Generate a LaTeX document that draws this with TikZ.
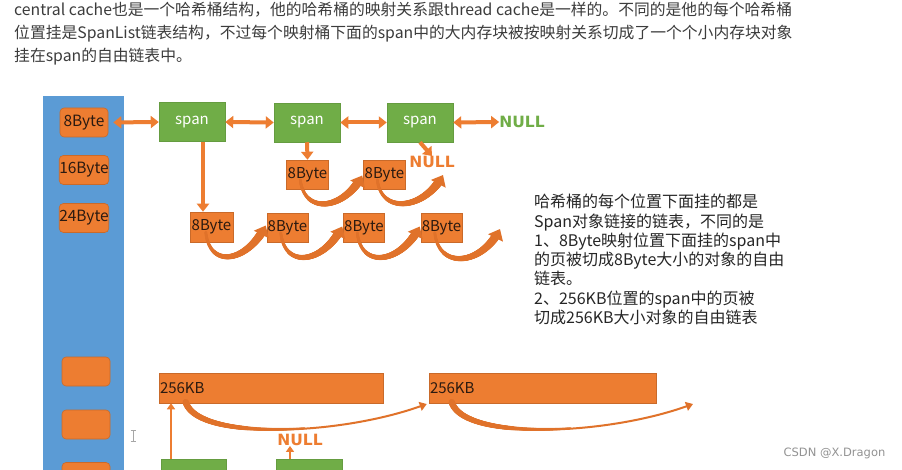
\documentclass[tikz,border=0pt]{standalone}
\usepackage{fontspec}
\setmainfont{Noto Sans CJK SC}
\newfontfamily\dejavu{DejaVu Sans}
\usetikzlibrary{arrows.meta,calc,decorations.markings}
\definecolor{myorange}{HTML}{ED7D31}
\definecolor{curorange}{HTML}{E0722A}
\definecolor{mygreen}{HTML}{70AD47}
\definecolor{myblue}{HTML}{5B9BD5}
\definecolor{txtdark}{HTML}{262626}
\definecolor{boxtxt}{HTML}{2B1A10}
\tikzset{
  bucketbox/.style={fill=myorange, draw=myorange!85!black, line width=0.6pt, rounded corners=4pt,
    minimum width=48pt, minimum height=29pt, inner sep=0pt, text=boxtxt, font=\fontsize{15.5}{15.5}\selectfont},
  spanbox/.style={fill=mygreen, draw=mygreen!90!black, line width=0.5pt, minimum width=66pt, minimum height=39pt,
    inner sep=0pt, text=white, font=\fontsize{15}{15}\selectfont},
  objbox/.style={fill=myorange, draw=myorange!85!black, line width=0.5pt, minimum width=42pt, minimum height=29pt,
    inner sep=0pt, text=boxtxt, font=\fontsize{15}{15}\selectfont},
  bigbox/.style={fill=myorange, draw=myorange!85!black, line width=0.5pt, minimum height=30pt, inner xsep=1pt,
    align=left, text=boxtxt, font=\fontsize{15}{15}\selectfont},
  nulltxt/.style={font=\dejavu\bfseries\fontsize{15.5}{15.5}\selectfont, inner sep=0pt},
  dbl/.style={draw=myorange, line width=4pt, {Triangle[width=12pt,length=8pt]}-{Triangle[width=12pt,length=8pt]}},
  down/.style={draw=myorange, line width=4pt, -{Triangle[width=12pt,length=8pt]}},
  thinup/.style={draw=myorange, line width=2.5pt, -{Triangle[width=8pt,length=6pt]}},
  curarrow/.style={draw=curorange, line width=2.5pt, -{Triangle[width=16pt,length=10pt]},
    postaction={decorate, decoration={markings, mark=between positions 0 and 0.9 step 0.5pt with
      {\fill[curorange] (0,0) circle[radius={(1.2+3.3*\pgfkeysvalueof{/pgf/decoration/mark info/distance from start}/\pgfdecoratedpathlength)*1pt}];}}}},
  longcur/.style={draw=curorange, line width=2pt, -{Triangle[width=9pt,length=7pt]},
    postaction={decorate, decoration={markings, mark=between positions 0 and 0.5 step 0.5pt with
      {\fill[curorange] (0,0) circle[radius={(3.2-4.4*\pgfkeysvalueof{/pgf/decoration/mark info/distance from start}/\pgfdecoratedpathlength)*1pt}];}}}},
  header/.style={anchor=west, inner sep=0pt, text=txtdark!90, font=\fontsize{15.8}{15.8}\selectfont},
}
\begin{document}
\begin{tikzpicture}[x=1pt,y=-1pt]
\useasboundingbox (0,0) rectangle (902,470);
\clip (0,0) rectangle (902,470);
\fill[white] (0,0) rectangle (902,470);

% header text
\node[header] (h1) at (14,10) {central cache也是一个哈希桶结构，他的哈希桶的映射关系跟thread cache是一样的。不同的是他的每个哈希桶};
\node[header] (h2) at (14,34) {位置挂是SpanList链表结构，不过每个映射桶下面的span中的大内存块被按映射关系切成了一个个小内存块对象};
\node[header] (h3) at (14,57) {挂在span的自由链表中。};

% bucket bar
\node[fill=myblue, minimum width=81pt, minimum height=384pt, inner sep=0pt, anchor=north west] (bucket) at (43,96) {};
\node[bucketbox] (b8) at (84,122.5) {8Byte};
\node[bucketbox] (b16) at (84,170) {16Byte};
\node[bucketbox] (b24) at (84,218) {24Byte};
\node[bucketbox] (e1) at (86,371.5) {};
\node[bucketbox] (e2) at (86,424.5) {};
\node[bucketbox] (e3) at (86,477) {};

% spans
\node[spanbox] (s1) at (192,122) {span};
\node[spanbox] (s2) at (307,122.5) {span};
\node[spanbox] (s3) at (420,122.5) {span};
\node[nulltxt, text=mygreen] (ng) at (522,122) {NULL};

\draw[dbl, shorten <=5pt] (b8.east) -- (s1.west);
\draw[dbl] (s1.east) -- (s2.west);
\draw[dbl] (s2.east) -- (s3.west);
\draw[dbl] (s3.east) -- (ng.west);

% span2 objects
\node[objbox] (c1) at (307.5,174.5) {8Byte};
\node[objbox] (c2) at (384.5,174.5) {8Byte};
\coordinate (c3) at (443,175);
% span3 null
\node[nulltxt, text=myorange] (no) at (432,162) {NULL};

% span1 objects
\node[objbox, minimum width=43pt, minimum height=30pt] (d1) at (211.5,227) {8Byte};
\node[objbox, minimum width=41pt] (d2) at (287.5,227.5) {8Byte};
\node[objbox, minimum width=41pt] (d3) at (364,227.5) {8Byte};
\node[objbox, minimum width=41pt] (d4) at (441.5,227.5) {8Byte};
\coordinate (d5) at (500,229);

\draw[down] (s2.south) -- (c1.north);
\draw[down] (s3.south) -- (no.north);
\draw[down] ([xshift=11pt]s1.south) -- ([xshift=11pt]s1.south |- d1.north);

% curved arrows, row 1
\draw[curarrow] ($(c1.west)+(14,5)$) .. controls +(4,36) and +(-18,34) .. ($(c2.west)+(-1,1)$);
\draw[curarrow] ($(c2.west)+(14,5)$) .. controls +(4,36) and +(-18,34) .. (c3);
% curved arrows, row 2
\draw[curarrow] ($(d1.west)+(16,5)$) .. controls +(4,38) and +(-18,36) .. ($(d2.west)+(-1,-2)$);
\draw[curarrow] ($(d2.west)+(14,5)$) .. controls +(4,38) and +(-18,36) .. ($(d3.west)+(-1,-1)$);
\draw[curarrow] ($(d3.west)+(14,5)$) .. controls +(4,38) and +(-18,36) .. ($(d4.west)+(-1,-1)$);
\draw[curarrow] ($(d4.west)+(14,5)$) .. controls +(4,38) and +(-18,36) .. (d5);

% right explanation
\node[anchor=north west, inner sep=0pt, align=left, text=txtdark, font=\fontsize{16}{19.3}\selectfont] (note) at (534,194)
  {哈希桶的每个位置下面挂的都是\\Span对象链接的链表，不同的是\\1、8Byte映射位置下面挂的span中\\的页被切成8Byte大小的对象的自由\\链表。\\2、256KB位置的span中的页被\\切成256KB大小对象的自由链表};

% 256KB part
\node[bigbox, text width=222pt] (k1) at (271,388) {256KB};
\node[bigbox, text width=225pt] (k2) at (542.5,388) {256KB};
\coordinate (k3) at (693,404);
\draw[longcur] ($(k1.south west)+(27,-1)$) .. controls +(12,38) and +(-90,32) .. ($(k2.west)+(-2,16)$);
\draw[longcur] ($(k2.south west)+(23,-1)$) .. controls +(12,38) and +(-90,32) .. (k3);

\node[spanbox, minimum width=65pt, minimum height=42pt] (g1) at (193.5,480) {};
\node[spanbox, minimum width=66pt, minimum height=42pt] (g2) at (309,480) {};
\node[nulltxt, text=myorange] (nb) at (300,440) {NULL};
\draw[thinup] ([xshift=-22.5pt]g1.north) -- ([xshift=-22.5pt]g1.north |- k1.south);
\draw[thinup] ([xshift=-19pt]g2.north) -- ([xshift=-19pt]g2.north |- nb.south);

% text cursor
\draw[gray!70, line width=0.8pt] (133,430) -- (133,441) (130.5,430) -- (135.5,430) (130.5,441) -- (135.5,441);

% watermark
\node[text=gray!85, inner sep=0pt, font=\dejavu\fontsize{11.5}{11.5}\selectfont] (wm) at (834.5,453) {CSDN @X.Dragon};
\end{tikzpicture}
\end{document}
